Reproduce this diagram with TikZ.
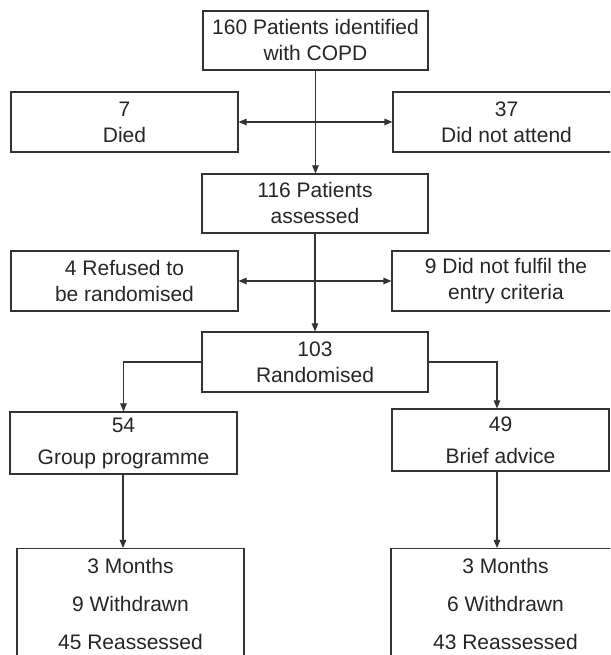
\documentclass[tikz,border=0pt]{standalone}
\usepackage{fontspec}
\setmainfont{Liberation Sans}
\usetikzlibrary{arrows.meta}
\begin{document}
\begin{tikzpicture}[x=1pt,y=1pt,
  box/.style={draw=black!80, line width=1.1pt, rectangle, align=center, inner sep=0pt,
    text=black!85, font=\fontsize{21}{26}\selectfont},
  wbox/.style={box, font=\fontsize{21}{32}\selectfont},
  mbox/.style={box, anchor=north, inner ysep=10pt, font=\fontsize{21}{38}\selectfont},
  conn/.style={draw=black!80, line width=1.1pt},
  arr/.style={conn, -{Triangle[length=8pt,width=6.5pt]}},
  darr/.style={conn, {Triangle[length=8pt,width=6.5pt]}-{Triangle[length=8pt,width=6.5pt]}}
]
\clip (0,0) rectangle (610,655);
\fill[white] (0,0) rectangle (610,655);

\node[box, minimum width=225pt, minimum height=59pt] (A) at (315.5,614.5) {160 Patients identified\\with COPD};
\node[box, minimum width=227pt, minimum height=60pt] (died) at (124.5,533) {7\\Died};
\node[box, minimum width=227pt, minimum height=60pt] (dna) at (506.5,533) {37\\Did not attend};
\node[box, minimum width=226pt, minimum height=59pt] (B) at (315,451.5) {116 Patients\\assessed};
\node[box, minimum width=227pt, minimum height=60pt] (ref) at (124.5,374) {4 Refused to\\be randomised};
\node[box, minimum width=228pt, minimum height=60pt] (ful) at (506,374) {9 Did not fulfil the\\entry criteria};
\node[box, minimum width=226pt, minimum height=60pt] (C) at (315,293) {103\\Randomised};
\node[wbox, minimum width=227pt, minimum height=62pt] (g54) at (123.5,212) {54\\Group programme};
\node[wbox, minimum width=217pt, minimum height=62pt] (b49) at (500.5,215) {49\\Brief advice};
\node[mbox, minimum width=227pt] (m1) at (130.5,107) {3 Months\\9 Withdrawn\\45 Reassessed};
\node[mbox, minimum width=229pt] (m2) at (505.5,107) {3 Months\\6 Withdrawn\\43 Reassessed};

\coordinate (r49) at ([xshift=-3.5pt]b49.north);
\coordinate (r49s) at ([xshift=-3.5pt]b49.south);
\coordinate (l54s) at ([xshift=-0.5pt]g54.south);

\draw[arr] (A.south) -- (A.south |- B.north);
\draw[darr] (died.east) -- (dna.west);
\draw[arr] (B.south) -- (B.south |- C.north);
\draw[darr] (ref.east) -- (ful.west);
\draw[arr] (C.west) -| (g54.north);
\draw[arr] (C.east) -| (r49);
\draw[arr] (l54s) -- (l54s |- m1.north);
\draw[arr] (r49s) -- (r49s |- m2.north);
\end{tikzpicture}
\end{document}
